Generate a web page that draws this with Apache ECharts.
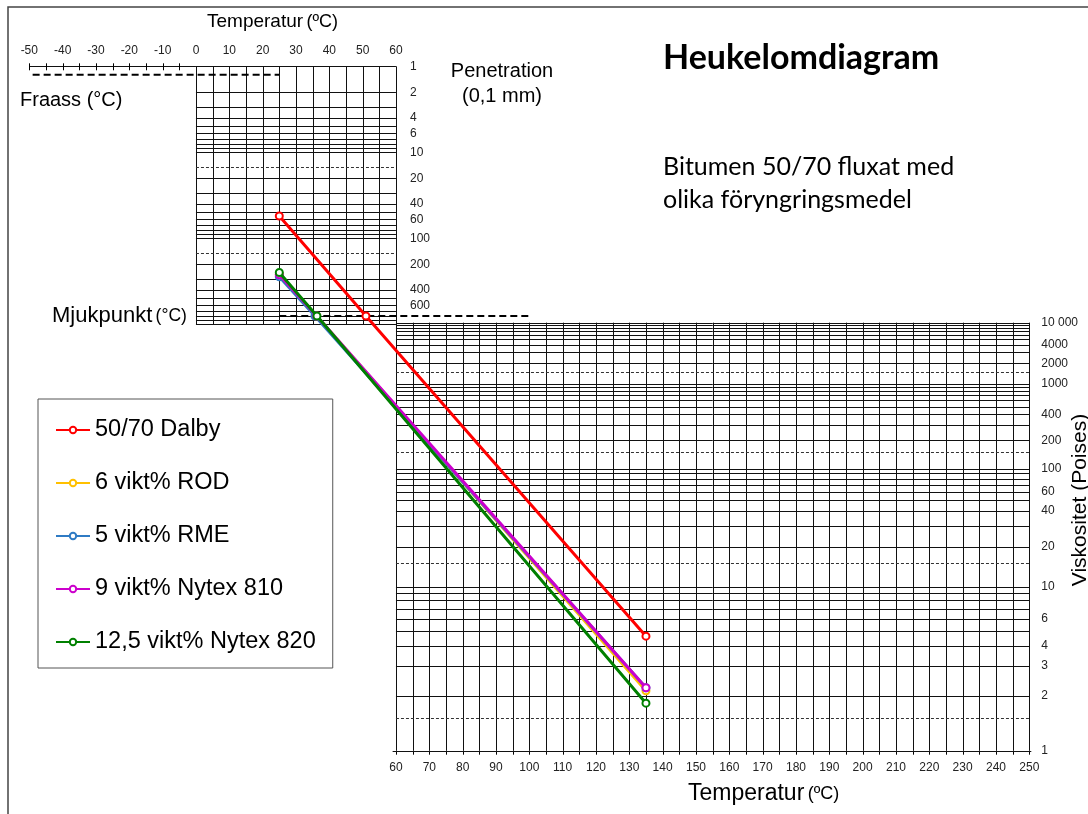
<!DOCTYPE html>
<html>
<head>
<meta charset="utf-8">
<title>Heukelomdiagram</title>
<script src="https://cdn.jsdelivr.net/npm/echarts@6/dist/echarts.min.js"></script>
<style>
  html, body { margin: 0; padding: 0; background: #ffffff; }
  #chart { width: 1088px; height: 814px; }
</style>
</head>
<body>
<div id="chart"></div>
<script>
// ---- Measured binders: penetration at 25 °C, softening point, viscosity at 135 °C ----
const seriesNames    = ['50/70 Dalby', '6 vikt% ROD', '5 vikt% RME', '9 vikt% Nytex 810', '12,5 vikt% Nytex 820'];
const seriesColors   = ['#FF0000', '#FFC000', '#2F7BC4', '#CC00CC', '#008000'];
const penetration25  = [55, 262, 280, 265, 250];          // 0,1 mm
const softeningPoint = [51.0, 36.2, 35.7, 36.2, 36.3];    // °C
const viscosity135   = [4.6, 2.13, 2.22, 2.22, 1.81];     // Poises

const PEN_TEMP = 25;              // °C, penetration test temperature
const VISC_TEMP = 135;            // °C, viscosity test temperature
const SP_PENETRATION = 800;       // penetration level of the softening point line
const FRAASS_PENETRATION = 1.25;  // penetration level of the Fraass line

// ---- Tick labels ----
const topTempLabels    = [-50, -40, -30, -20, -10, 0, 10, 20, 30, 40, 50, 60];
const bottomTempLabels = [60, 70, 80, 90, 100, 110, 120, 130, 140, 150, 160, 170, 180, 190, 200, 210, 220, 230, 240, 250];
const penLabels        = [1, 2, 4, 6, 10, 20, 40, 60, 100, 200, 400, 600];
const viscLabels       = [1, 2, 3, 4, 6, 10, 20, 40, 60, 100, 200, 400, 1000, 2000, 4000, 10000];

// ---- Chart paper lines ----
const penGrid        = [1, 2, 3, 4, 5, 6, 7, 8, 9, 10, 20, 30, 40, 50, 60, 70, 80, 90, 100,
                        200, 300, 400, 500, 600, 700, 800, 900, 1000];
const penGridDashed  = [15, 150];
const viscGrid       = [2, 3, 4, 5, 6, 7, 8, 9, 10, 20, 30, 40, 50, 60, 70, 80, 90, 100,
                        200, 300, 400, 500, 600, 700, 800, 900, 1000, 2000, 3000, 4000, 5000,
                        6000, 7000, 8000, 9000, 10000];
const viscGridDashed = [1.5, 15, 150, 1500];

// ---- Heukelom depth scale (shared vertical coordinate) ----
// Penetration is logarithmic; the viscosity scale is compressed towards high values.
const PEN_UNIT = 86;
const VISC_A = 99.1, VISC_B = 585.3, VISC_K = 0.1427;
const penDepth  = p => PEN_UNIT * Math.log10(p);
const viscDepth = v => VISC_A + VISC_B * Math.pow(v, -VISC_K);
const penFromDepth  = d => Math.pow(10, d / PEN_UNIT);
const viscFromDepth = d => Math.pow((d - VISC_A) / VISC_B, -1 / VISC_K);
const DEPTH_MAX = viscDepth(1);

const T_MIN = -50, T_MAX = 250, PANEL_SPLIT = 60;

function range(a, b, step) { const r = []; for (let v = a; v <= b + 1e-9; v += step) r.push(v); return r; }

// Segment list: [t0, depth0, t1, depth1, kind]
// kind 0 = solid paper line, 1 = fine dashed line, 2 = bold dashed reference line,
// kind 3 = tick crossing the scale line, 4 = tick below the scale line
const segments = [];
// upper panel: penetration paper (0–60 °C)
range(0, PANEL_SPLIT, 5).forEach(t => segments.push([t, penDepth(1), t, penDepth(1000), 0]));
penGrid.forEach(p => segments.push([0, penDepth(p), PANEL_SPLIT, penDepth(p), 0]));
penGridDashed.forEach(p => segments.push([0, penDepth(p), PANEL_SPLIT, penDepth(p), 1]));
// temperature scale line along the top, with ticks below 0 °C
segments.push([T_MIN, penDepth(1), 0, penDepth(1), 0]);
range(T_MIN, -5, 5).forEach(t => segments.push([t, penDepth(1), t, penDepth(1), 3]));
// lower panel: viscosity paper (60–250 °C), bottom scale line with ticks
range(PANEL_SPLIT, T_MAX, 5).forEach(t => segments.push([t, viscDepth(10000), t, viscDepth(1), 0]));
range(PANEL_SPLIT, T_MAX, 5).forEach(t => segments.push([t, viscDepth(1), t, viscDepth(1), 4]));
segments.push([PANEL_SPLIT - 1, viscDepth(1), T_MAX + 0.6, viscDepth(1), 0]);
viscGrid.forEach(v => segments.push([PANEL_SPLIT, viscDepth(v), T_MAX, viscDepth(v), 0]));
viscGridDashed.forEach(v => segments.push([PANEL_SPLIT, viscDepth(v), T_MAX, viscDepth(v), 1]));
// Fraass and softening point reference lines
segments.push([T_MIN + 1, penDepth(FRAASS_PENETRATION), PEN_TEMP, penDepth(FRAASS_PENETRATION), 2]);
segments.push([PEN_TEMP, penDepth(SP_PENETRATION), 100, penDepth(SP_PENETRATION), 2]);

const segmentStyles = [
  { stroke: '#111', lineWidth: 1 },
  { stroke: '#333', lineWidth: 1, lineDash: [3, 2] },
  { stroke: '#000', lineWidth: 2, lineDash: [7, 4] },
  { stroke: '#000', lineWidth: 1 },
  { stroke: '#000', lineWidth: 1 }
];

function renderSegment(params, api) {
  const kind = api.value(4);
  const a = api.coord([api.value(0), api.value(1)]);
  const b = api.coord([api.value(2), api.value(3)]);
  if (kind === 3 || kind === 4) {
    const x = Math.round(a[0]) + 0.5;
    const up = kind === 3 ? 3 : 0;
    return { type: 'line', shape: { x1: x, y1: a[1] - up, x2: x, y2: a[1] + 4 }, style: segmentStyles[kind] };
  }
  let x1 = a[0], y1 = a[1], x2 = b[0], y2 = b[1];
  if (kind !== 2) {
    if (Math.abs(y1 - y2) < 0.01) { y1 = y2 = Math.round(y1) + 0.5; }
    if (Math.abs(x1 - x2) < 0.01) { x1 = x2 = Math.round(x1) + 0.5; }
  }
  return { type: 'line', shape: { x1, y1, x2, y2 }, style: segmentStyles[kind] };
}

const FONT = "'Liberation Sans', Arial, sans-serif";
const TICK_FONT = { fontFamily: FONT, fontSize: 12, color: '#222' };

const lineSeries = seriesNames.map((name, i) => ({
  name,
  type: 'line',
  xAxisIndex: 0,
  yAxisIndex: 0,
  data: [
    [PEN_TEMP, penDepth(penetration25[i])],
    [softeningPoint[i], penDepth(SP_PENETRATION)],
    [VISC_TEMP, viscDepth(viscosity135[i])]
  ],
  symbol: 'emptyCircle',
  symbolSize: 7,
  color: seriesColors[i],
  lineStyle: { width: 3, color: seriesColors[i] },
  itemStyle: { color: seriesColors[i], borderWidth: 1 },
  z: 5 + i,
  animation: false
}));

const hiddenAxisParts = {
  axisLine: { show: false },
  axisTick: { show: false },
  minorTick: { show: false },
  splitLine: { show: false },
  minorSplitLine: { show: false }
};

const chart = echarts.init(document.getElementById('chart'), null, { renderer: 'canvas' });

chart.setOption({
  animation: false,
  backgroundColor: '#ffffff',
  grid: {
    left: 29.3, top: 66.3, width: 1000, height: DEPTH_MAX,
    containLabel: false, outerBoundsMode: 'none'
  },
  xAxis: [
    {
      type: 'value', position: 'bottom', min: T_MIN, max: T_MAX, interval: 10,
      ...hiddenAxisParts,
      axisLabel: { customValues: bottomTempLabels, margin: 11, ...TICK_FONT,
                   formatter: v => (v >= PANEL_SPLIT ? String(v) : '') }
    },
    {
      type: 'value', position: 'top', min: T_MIN, max: T_MAX, interval: 10,
      ...hiddenAxisParts,
      axisLabel: { customValues: topTempLabels, margin: 10, ...TICK_FONT,
                   formatter: v => (v <= PANEL_SPLIT ? String(v) : '') }
    }
  ],
  yAxis: [
    {
      type: 'value', position: 'right', inverse: true, min: 0, max: DEPTH_MAX,
      ...hiddenAxisParts,
      axisLabel: {
        customValues: viscLabels.map(viscDepth), margin: 12, ...TICK_FONT,
        formatter: d => {
          const v = Math.round(viscFromDepth(d));
          return v >= 10000 ? String(v).replace(/(\d)(?=(\d{3})+$)/g, '$1 ') : String(v);
        }
      }
    },
    {
      type: 'value', position: 'right', inverse: true, min: 0, max: DEPTH_MAX,
      offset: -1000 * (T_MAX - PANEL_SPLIT) / (T_MAX - T_MIN),
      ...hiddenAxisParts,
      axisLabel: {
        customValues: penLabels.map(penDepth), margin: 14, ...TICK_FONT,
        formatter: d => String(Math.round(penFromDepth(d)))
      }
    }
  ],
  legend: {
    orient: 'vertical',
    left: 38, top: 399,
    padding: [19, 17, 14, 17],
    itemGap: 29,
    itemWidth: 34, itemHeight: 8,
    borderColor: '#555', borderWidth: 1,
    backgroundColor: '#fff',
    textStyle: { fontFamily: FONT, fontSize: 23.5, color: '#000' },
    data: seriesNames
  },
  graphic: [
    { type: 'rect', z: -10, silent: true,
      shape: { x: 8, y: 7, width: 1200, height: 1000 },
      style: { fill: 'none', stroke: '#444', lineWidth: 1.5 } },
    { type: 'text', x: 207, y: 22, silent: true,
      style: { text: '{a|Temperatur} {b|(ºC)}', verticalAlign: 'middle',
               rich: { a: { fontFamily: FONT, fontSize: 19, fill: '#000' }, b: { fontFamily: FONT, fontSize: 18, fill: '#000' } } } },
    { type: 'text', x: 688, y: 794, silent: true,
      style: { text: '{a|Temperatur} {b|(ºC)}', verticalAlign: 'middle',
               rich: { a: { fontFamily: FONT, fontSize: 23, fill: '#000' }, b: { fontFamily: FONT, fontSize: 18, fill: '#000' } } } },
    { type: 'text', x: 502, y: 71, silent: true,
      style: { text: 'Penetration', align: 'center', verticalAlign: 'middle', font: '20px ' + FONT, fill: '#000' } },
    { type: 'text', x: 502, y: 96, silent: true,
      style: { text: '(0,1 mm)', align: 'center', verticalAlign: 'middle', font: '20px ' + FONT, fill: '#000' } },
    { type: 'text', x: 20, y: 100, silent: true,
      style: { text: 'Fraass (°C)', verticalAlign: 'middle', font: '20px ' + FONT, fill: '#000' } },
    { type: 'text', x: 52, y: 316, silent: true,
      style: { text: '{a|Mjukpunkt} {b|(°C)}', verticalAlign: 'middle',
               rich: { a: { fontFamily: FONT, fontSize: 22, fill: '#000' }, b: { fontFamily: FONT, fontSize: 17.5, fill: '#000' } } } },
    { type: 'text', x: 663, y: 58, silent: true,
      style: { text: 'Heukelomdiagram', verticalAlign: 'middle', font: 'bold 34px Lato, sans-serif', fill: '#000' } },
    { type: 'text', x: 663, y: 167, silent: true,
      style: { text: 'Bitumen 50/70 fluxat med', verticalAlign: 'middle', font: '25px Lato, sans-serif', fill: '#000' } },
    { type: 'text', x: 663, y: 200, silent: true,
      style: { text: 'olika föryngringsmedel', verticalAlign: 'middle', font: '25px Lato, sans-serif', fill: '#000' } },
    { type: 'text', x: 1080, y: 500, rotation: Math.PI / 2, silent: true,
      style: { text: 'Viskositet (Poises)', align: 'center', verticalAlign: 'middle', font: '21px ' + FONT, fill: '#000' } }
  ],
  series: [
    {
      type: 'custom',
      name: 'paper',
      xAxisIndex: 0, yAxisIndex: 0,
      renderItem: renderSegment,
      data: segments,
      silent: true,
      clip: false,
      z: 1,
      animation: false
    },
    ...lineSeries
  ]
});
</script>
</body>
</html>
